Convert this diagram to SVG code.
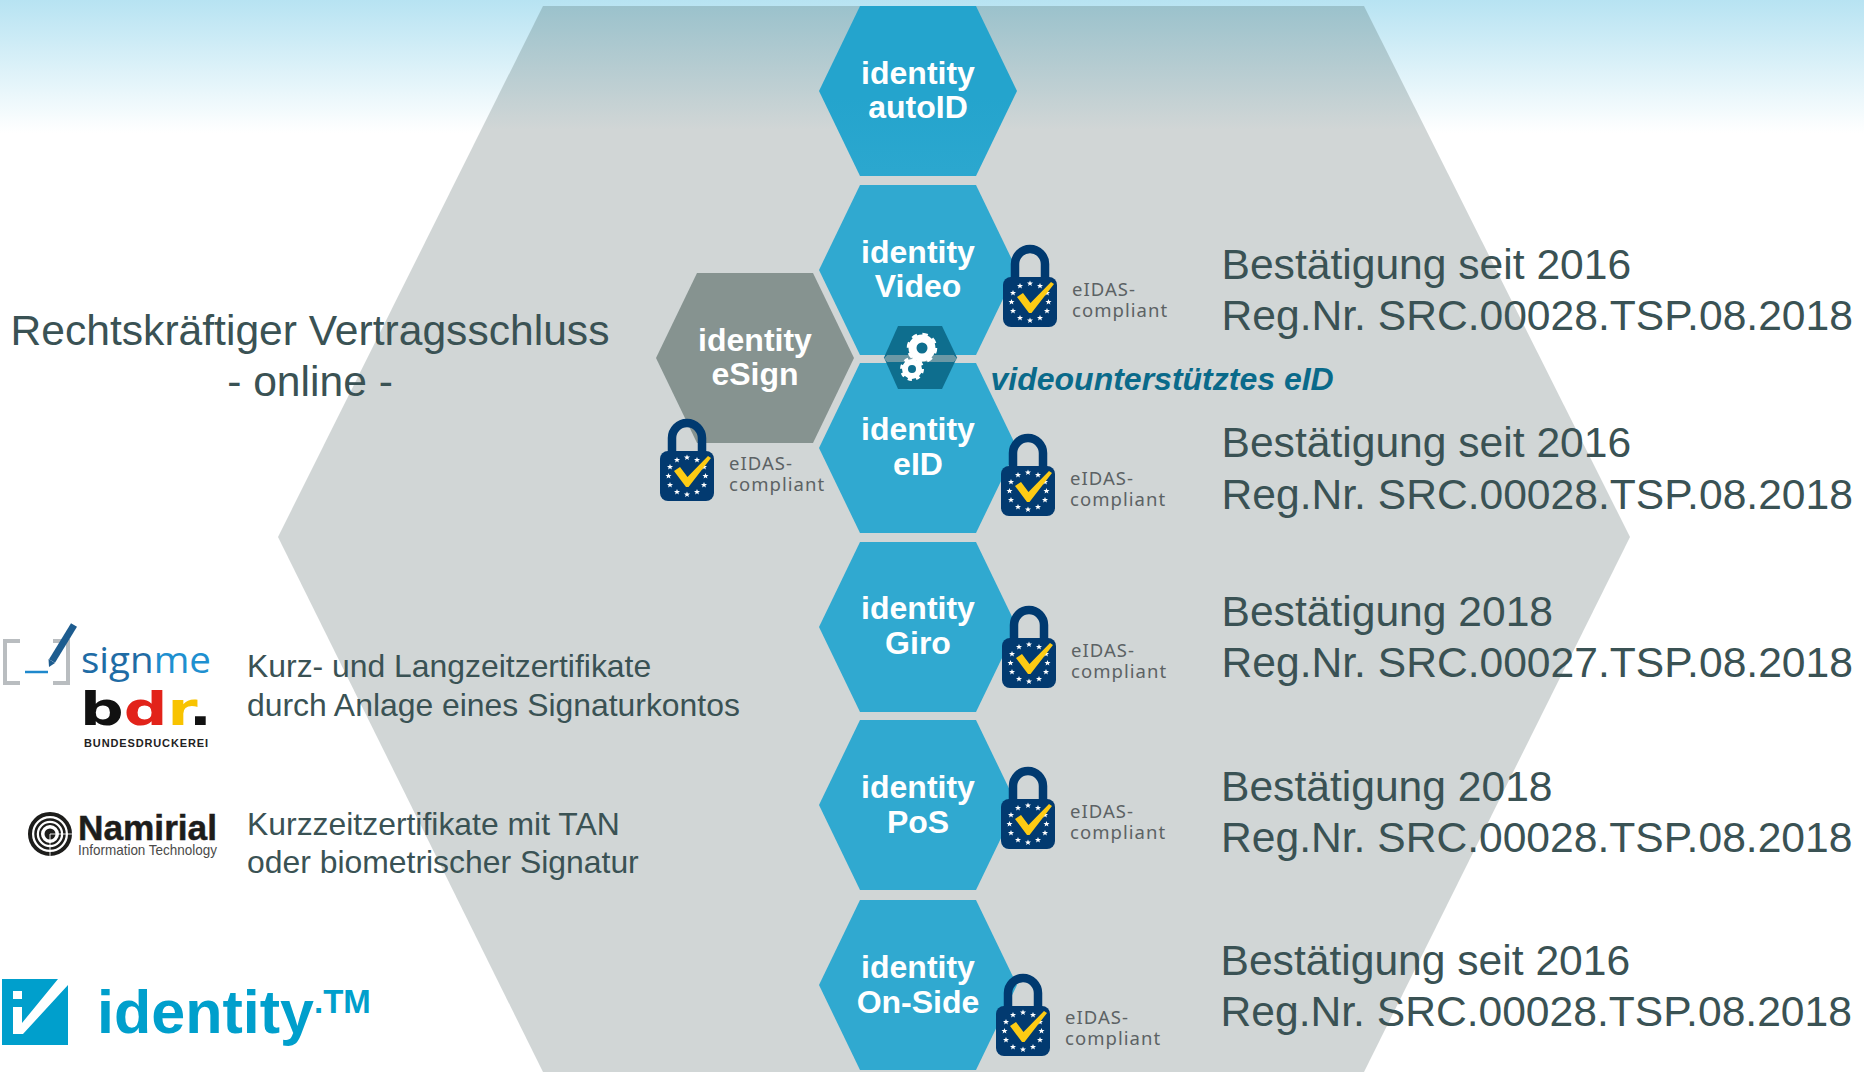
<svg xmlns="http://www.w3.org/2000/svg" xmlns:xlink="http://www.w3.org/1999/xlink" width="1864" height="1072" viewBox="0 0 1864 1072">
<style>
text{font-family:"Liberation Sans",Arial,sans-serif}
.hx{fill:#30a9d0}
.lb{fill:#fff;font-weight:700;font-size:32px;text-anchor:middle}
.big{fill:#3a5254;font-size:42.6px}
.mid{fill:#3a5254;font-size:31.9px}
.ei{fill:#5c6264;font-size:18.5px;letter-spacing:1.05px;font-family:"Noto Sans",sans-serif}
</style>
<defs>
<linearGradient id="sky" x1="0" y1="0" x2="0" y2="1"><stop offset="0" stop-color="#b7e3f2"/><stop offset="1" stop-color="#fff"/></linearGradient>
<linearGradient id="big" gradientUnits="userSpaceOnUse" x1="0" y1="6" x2="0" y2="130"><stop offset="0" stop-color="#9bc2cc"/><stop offset="1" stop-color="#d1d6d6"/></linearGradient>
<linearGradient id="top" gradientUnits="userSpaceOnUse" x1="0" y1="6" x2="0" y2="130"><stop offset="0" stop-color="#24a4cd"/><stop offset="1" stop-color="#30a9d0"/></linearGradient>
<polygon id="hex" points="-58,-85 58,-85 99,0 58,85 -58,85 -99,0"/>
<polygon id="st" points="0,-3 .8,-.9 3,-.9 1.3,.5 1.9,2.6 0,1.3 -1.9,2.6 -1.3,.5 -3,-.9 -.8,-.9" fill="#fff"/>
<g id="lock">
<path d="M12,34V19a15,15 0 0 1 30,0V34" fill="none" stroke="#003a70" stroke-width="8.500"/>
<rect x="0" y="32" width="54" height="50" rx="8" fill="#023a70"/>
<g transform="translate(27,57)">
<use xlink:href="#st" href="#st" x="0" y="-18.5"/><use xlink:href="#st" href="#st" x="10" y="-16"/><use xlink:href="#st" href="#st" x="17" y="-9"/><use xlink:href="#st" href="#st" x="18.5" y="0"/><use xlink:href="#st" href="#st" x="17" y="9"/><use xlink:href="#st" href="#st" x="10" y="16"/><use xlink:href="#st" href="#st" x="0" y="18.5"/><use xlink:href="#st" href="#st" x="-10" y="16"/><use xlink:href="#st" href="#st" x="-17" y="9"/><use xlink:href="#st" href="#st" x="-18.5" y="0"/><use xlink:href="#st" href="#st" x="-17" y="-9"/><use xlink:href="#st" href="#st" x="-10" y="-16"/>
</g>
<polygon points="14,52 20,48 27.500,58 48,37 51,39 28.500,68 26,68" fill="#fdcb14"/>
</g>
</defs>

<rect width="1864" height="1072" fill="#fff"/>
<rect width="1864" height="133" fill="url(#sky)"/>
<polygon id="backdrop" points="543,6 1364,6 1630,537 1364,1072 543,1072 278,537" fill="url(#big)"/>

<g id="node-autoid"><use xlink:href="#hex" href="#hex" x="918" y="91" fill="url(#top)"/><text class="lb" x="918" y="84">identity</text><text class="lb" x="918" y="118">autoID</text></g>
<g id="node-video"><use xlink:href="#hex" href="#hex" x="918" y="270" class="hx"/><text class="lb" x="918" y="263">identity</text><text class="lb" x="918" y="297">Video</text></g>
<g id="node-eid"><use xlink:href="#hex" href="#hex" x="918" y="448" class="hx"/><text class="lb" x="918" y="440">identity</text><text class="lb" x="918" y="475">eID</text></g>
<g id="node-giro"><use xlink:href="#hex" href="#hex" x="918" y="627" class="hx"/><text class="lb" x="918" y="619">identity</text><text class="lb" x="918" y="654">Giro</text></g>
<g id="node-pos"><use xlink:href="#hex" href="#hex" x="918" y="805" class="hx"/><text class="lb" x="918" y="798">identity</text><text class="lb" x="918" y="833">PoS</text></g>
<g id="node-onside"><use xlink:href="#hex" href="#hex" x="918" y="985" class="hx"/><text class="lb" x="918" y="978">identity</text><text class="lb" x="918" y="1013">On-Side</text></g>
<g id="node-esign"><use xlink:href="#hex" href="#hex" x="755" y="358" fill="#869390"/><text class="lb" x="755" y="351">identity</text><text class="lb" x="755" y="385">eSign</text></g>

<g id="node-gear">
<polygon points="898,326 942,326 957,357.500 942,389 898,389 884,357.500" fill="#0e6e8e"/>
<polygon points="887.200,355 953.800,355 957,358.500 953.800,362 887.200,362 884,358.500" fill="#6b98a5"/>
<g fill="none" stroke="#fff">
<circle cx="922" cy="348" r="9.500" stroke-width="8"/>
<circle cx="922" cy="348" r="13.500" stroke-width="3.500" stroke-dasharray="5.300 5.300"/>
<circle cx="912" cy="369" r="7" stroke-width="6"/>
<circle cx="912" cy="369" r="10.500" stroke-width="3" stroke-dasharray="4.100 4.150"/>
</g>
</g>

<g id="badge-video"><use xlink:href="#lock" href="#lock" x="1003" y="245"/><text class="ei" x="1072" y="296">eIDAS-</text><text class="ei" x="1072" y="317">compliant</text></g>
<g id="badge-esign"><use xlink:href="#lock" href="#lock" x="660" y="419"/><text class="ei" x="729" y="470">eIDAS-</text><text class="ei" x="729" y="491">compliant</text></g>
<g id="badge-eid"><use xlink:href="#lock" href="#lock" x="1001" y="434"/><text class="ei" x="1070" y="485">eIDAS-</text><text class="ei" x="1070" y="506">compliant</text></g>
<g id="badge-giro"><use xlink:href="#lock" href="#lock" x="1002" y="606"/><text class="ei" x="1071" y="657">eIDAS-</text><text class="ei" x="1071" y="678">compliant</text></g>
<g id="badge-pos"><use xlink:href="#lock" href="#lock" x="1001" y="767"/><text class="ei" x="1070" y="818">eIDAS-</text><text class="ei" x="1070" y="839">compliant</text></g>
<g id="badge-onside"><use xlink:href="#lock" href="#lock" x="996" y="974"/><text class="ei" x="1065" y="1024">eIDAS-</text><text class="ei" x="1065" y="1045">compliant</text></g>

<text x="990.500" y="390" fill="#0a6a8a" font-size="32" font-weight="700" font-style="italic">videounterstütztes eID</text>

<g id="confirmations">
<text class="big" x="1221.500" y="279">Bestätigung seit 2016</text><text class="big" x="1221.500" y="330">Reg.Nr. SRC.00028.TSP.08.2018</text>
<text class="big" x="1221.500" y="457">Bestätigung seit 2016</text><text class="big" x="1221.500" y="509">Reg.Nr. SRC.00028.TSP.08.2018</text>
<text class="big" x="1221.500" y="626">Bestätigung 2018</text><text class="big" x="1221.500" y="677">Reg.Nr. SRC.00027.TSP.08.2018</text>
<text class="big" x="1221" y="801">Bestätigung 2018</text><text class="big" x="1221" y="852">Reg.Nr. SRC.00028.TSP.08.2018</text>
<text class="big" x="1220.500" y="975">Bestätigung seit 2016</text><text class="big" x="1220.500" y="1026">Reg.Nr. SRC.00028.TSP.08.2018</text>
</g>

<text class="big" x="310" y="345" text-anchor="middle">Rechtskräftiger Vertragsschluss</text>
<text class="big" x="310" y="396" text-anchor="middle">- online -</text>

<text class="mid" x="247" y="677">Kurz- und Langzeitzertifikate</text>
<text class="mid" x="247" y="716">durch Anlage eines Signaturkontos</text>
<text class="mid" x="247" y="835">Kurzzeitzertifikate mit TAN</text>
<text class="mid" x="247" y="873">oder biometrischer Signatur</text>

<g id="logo-signme">
<path d="M20,641H5V683H20M53,641H68V683H53" fill="none" stroke="#b9bdc0" stroke-width="4"/>
<path d="M25,672H48" stroke="#1e88cc" stroke-width="2.500"/>
<path d="M74,625L52,661" stroke="#1d5c8f" stroke-width="7"/>
<polygon points="48.500,659 55,663 49,667" fill="#1d5c8f"/>
<text x="81" y="673" font-size="36" style='font-family:"Open Sans",sans-serif' textLength="130" lengthAdjust="spacingAndGlyphs" fill="#1f6ca5">sign<tspan fill="#1e90d0">me</tspan></text>
</g>
<g id="logo-bdr">
<text x="80" y="725" font-size="47" font-weight="700" style='font-family:"DejaVu Sans",sans-serif' textLength="132" lengthAdjust="spacingAndGlyphs" fill="#111">b<tspan fill="#e2231a">d</tspan><tspan fill="#f8c300">r</tspan>.</text>
<text x="84" y="747" font-size="11" font-weight="700" textLength="124" fill="#222">BUNDESDRUCKEREI</text>
</g>
<g id="logo-namirial">
<g fill="none" stroke="#1d1d1b"><circle cx="50" cy="834" r="20" stroke-width="4"/><circle cx="50" cy="834" r="14.500" stroke-width="2.500"/><circle cx="50" cy="834" r="10" stroke-width="2"/></g>
<circle cx="50" cy="834" r="5.500" fill="#1d1d1b"/>
<path d="M50,834H72M50,834V856" stroke="#fff" stroke-width=".9" fill="none"/>
<text x="78" y="840" font-size="35" font-weight="700" textLength="139" lengthAdjust="spacingAndGlyphs" fill="#1d1d1b" stroke="#1d1d1b" stroke-width=".5">Namirial</text>
<text x="78" y="855" font-size="14.500" textLength="139" lengthAdjust="spacingAndGlyphs" fill="#4a4a49">Information Technology</text>
</g>
<g id="logo-identity">
<rect x="2" y="979" width="66" height="66" fill="#009fcc"/>
<rect x="13" y="991" width="9" height="8" fill="#fff"/>
<polygon points="13,1007 22,1007 22,1023 58,979 68,979 68,985 23,1034 13,1034" fill="#fff"/>
<text x="97" y="1033" font-size="61" font-weight="700" fill="#009fcc">identity</text>
<text x="314" y="1013" font-size="33" font-weight="700" fill="#009fcc">.TM</text>
</g>
</svg>
